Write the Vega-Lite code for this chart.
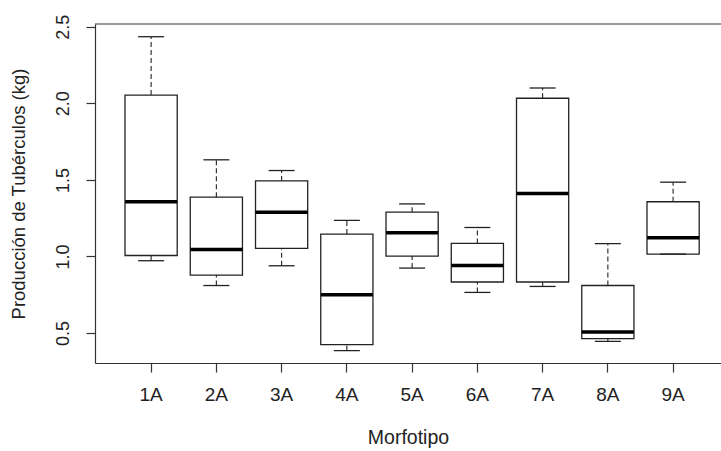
{
  "$schema": "https://vega.github.io/schema/vega-lite/v6.json",
  "width": 626,
  "height": 339,
  "autosize": "none",
  "padding": {"left": 95, "top": 24, "right": 0, "bottom": 88},
  "background": "white",
  "config": {
    "view": {"stroke": null},
    "font": "Liberation Sans",
    "axis": {"grid": false, "domainColor": "#333", "tickColor": "#333", "labelColor": "#222", "titleColor": "#222", "titleFontWeight": "normal", "domainWidth": 1.2, "tickWidth": 1.2}
  },
  "data": {
    "values": [
      {"m": "1A", "min": 0.972, "q1": 1.006, "med": 1.357, "q3": 2.054, "max": 2.435},
      {"m": "2A", "min": 0.81, "q1": 0.878, "med": 1.045, "q3": 1.387, "max": 1.631},
      {"m": "3A", "min": 0.939, "q1": 1.052, "med": 1.289, "q3": 1.493, "max": 1.561},
      {"m": "4A", "min": 0.385, "q1": 0.424, "med": 0.75, "q3": 1.146, "max": 1.235},
      {"m": "5A", "min": 0.924, "q1": 1.002, "med": 1.154, "q3": 1.289, "max": 1.343},
      {"m": "6A", "min": 0.765, "q1": 0.833, "med": 0.941, "q3": 1.085, "max": 1.189},
      {"m": "7A", "min": 0.804, "q1": 0.833, "med": 1.411, "q3": 2.033, "max": 2.1},
      {"m": "8A", "min": 0.445, "q1": 0.463, "med": 0.507, "q3": 0.81, "max": 1.083},
      {"m": "9A", "min": 1.015, "q1": 1.015, "med": 1.122, "q3": 1.357, "max": 1.485}
    ]
  },
  "layer": [
    {
      "mark": {"type": "rule", "color": "#222", "strokeWidth": 1.1, "strokeDash": [5, 3], "opacity": 1},
      "encoding": {
        "x": {"field": "m", "type": "nominal", "scale": {"paddingInner": 0, "paddingOuter": 0.297, "align": 0.606}, "sort": null,
          "axis": {"title": "Morfotipo", "labelAngle": 0, "labelFontSize": 19, "titleFontSize": 19.5, "tickSize": 9, "labelPadding": 13, "titlePadding": 24}},
        "y": {"field": "q3", "type": "quantitative", "scale": {"domain": [0.304, 2.518], "nice": false, "zero": false},
          "axis": {"title": "Producción de Tubérculos (kg)", "values": [0.5, 1, 1.5, 2, 2.5], "format": ".1f", "labelAngle": 270, "labelAlign": "center", "labelBaseline": "alphabetic", "labelFontSize": 18, "titleFontSize": 18.5, "tickSize": 9, "labelPadding": 18, "titlePadding": 26}},
        "y2": {"field": "max"}
      }
    },
    {
      "mark": {"type": "rule", "color": "#222", "strokeWidth": 1.1, "strokeDash": [5, 3], "opacity": 1},
      "encoding": {
        "x": {"field": "m", "type": "nominal", "sort": null},
        "y": {"field": "min", "type": "quantitative"},
        "y2": {"field": "q1"}
      }
    },
    {
      "mark": {"type": "bar", "fill": "white", "stroke": "#222", "strokeWidth": 1.3, "width": {"band": 0.8}, "opacity": 1},
      "encoding": {
        "x": {"field": "m", "type": "nominal", "sort": null},
        "y": {"field": "q1", "type": "quantitative"},
        "y2": {"field": "q3"}
      }
    },
    {
      "mark": {"type": "tick", "color": "#222", "size": 26, "thickness": 1.3, "opacity": 1},
      "encoding": {
        "x": {"field": "m", "type": "nominal", "sort": null},
        "y": {"field": "max", "type": "quantitative"}
      }
    },
    {
      "mark": {"type": "tick", "color": "#222", "size": 26, "thickness": 1.3, "opacity": 1},
      "encoding": {
        "x": {"field": "m", "type": "nominal", "sort": null},
        "y": {"field": "min", "type": "quantitative"}
      }
    },
    {
      "mark": {"type": "tick", "color": "#000", "size": 52, "thickness": 3.5, "opacity": 1},
      "encoding": {
        "x": {"field": "m", "type": "nominal", "sort": null},
        "y": {"field": "med", "type": "quantitative"}
      }
    },
    {
      "data": {"values": [{}]},
      "mark": {"type": "rule", "color": "#333", "strokeWidth": 1.2},
      "encoding": {"y": {"datum": 2.518}}
    }
  ]
}
